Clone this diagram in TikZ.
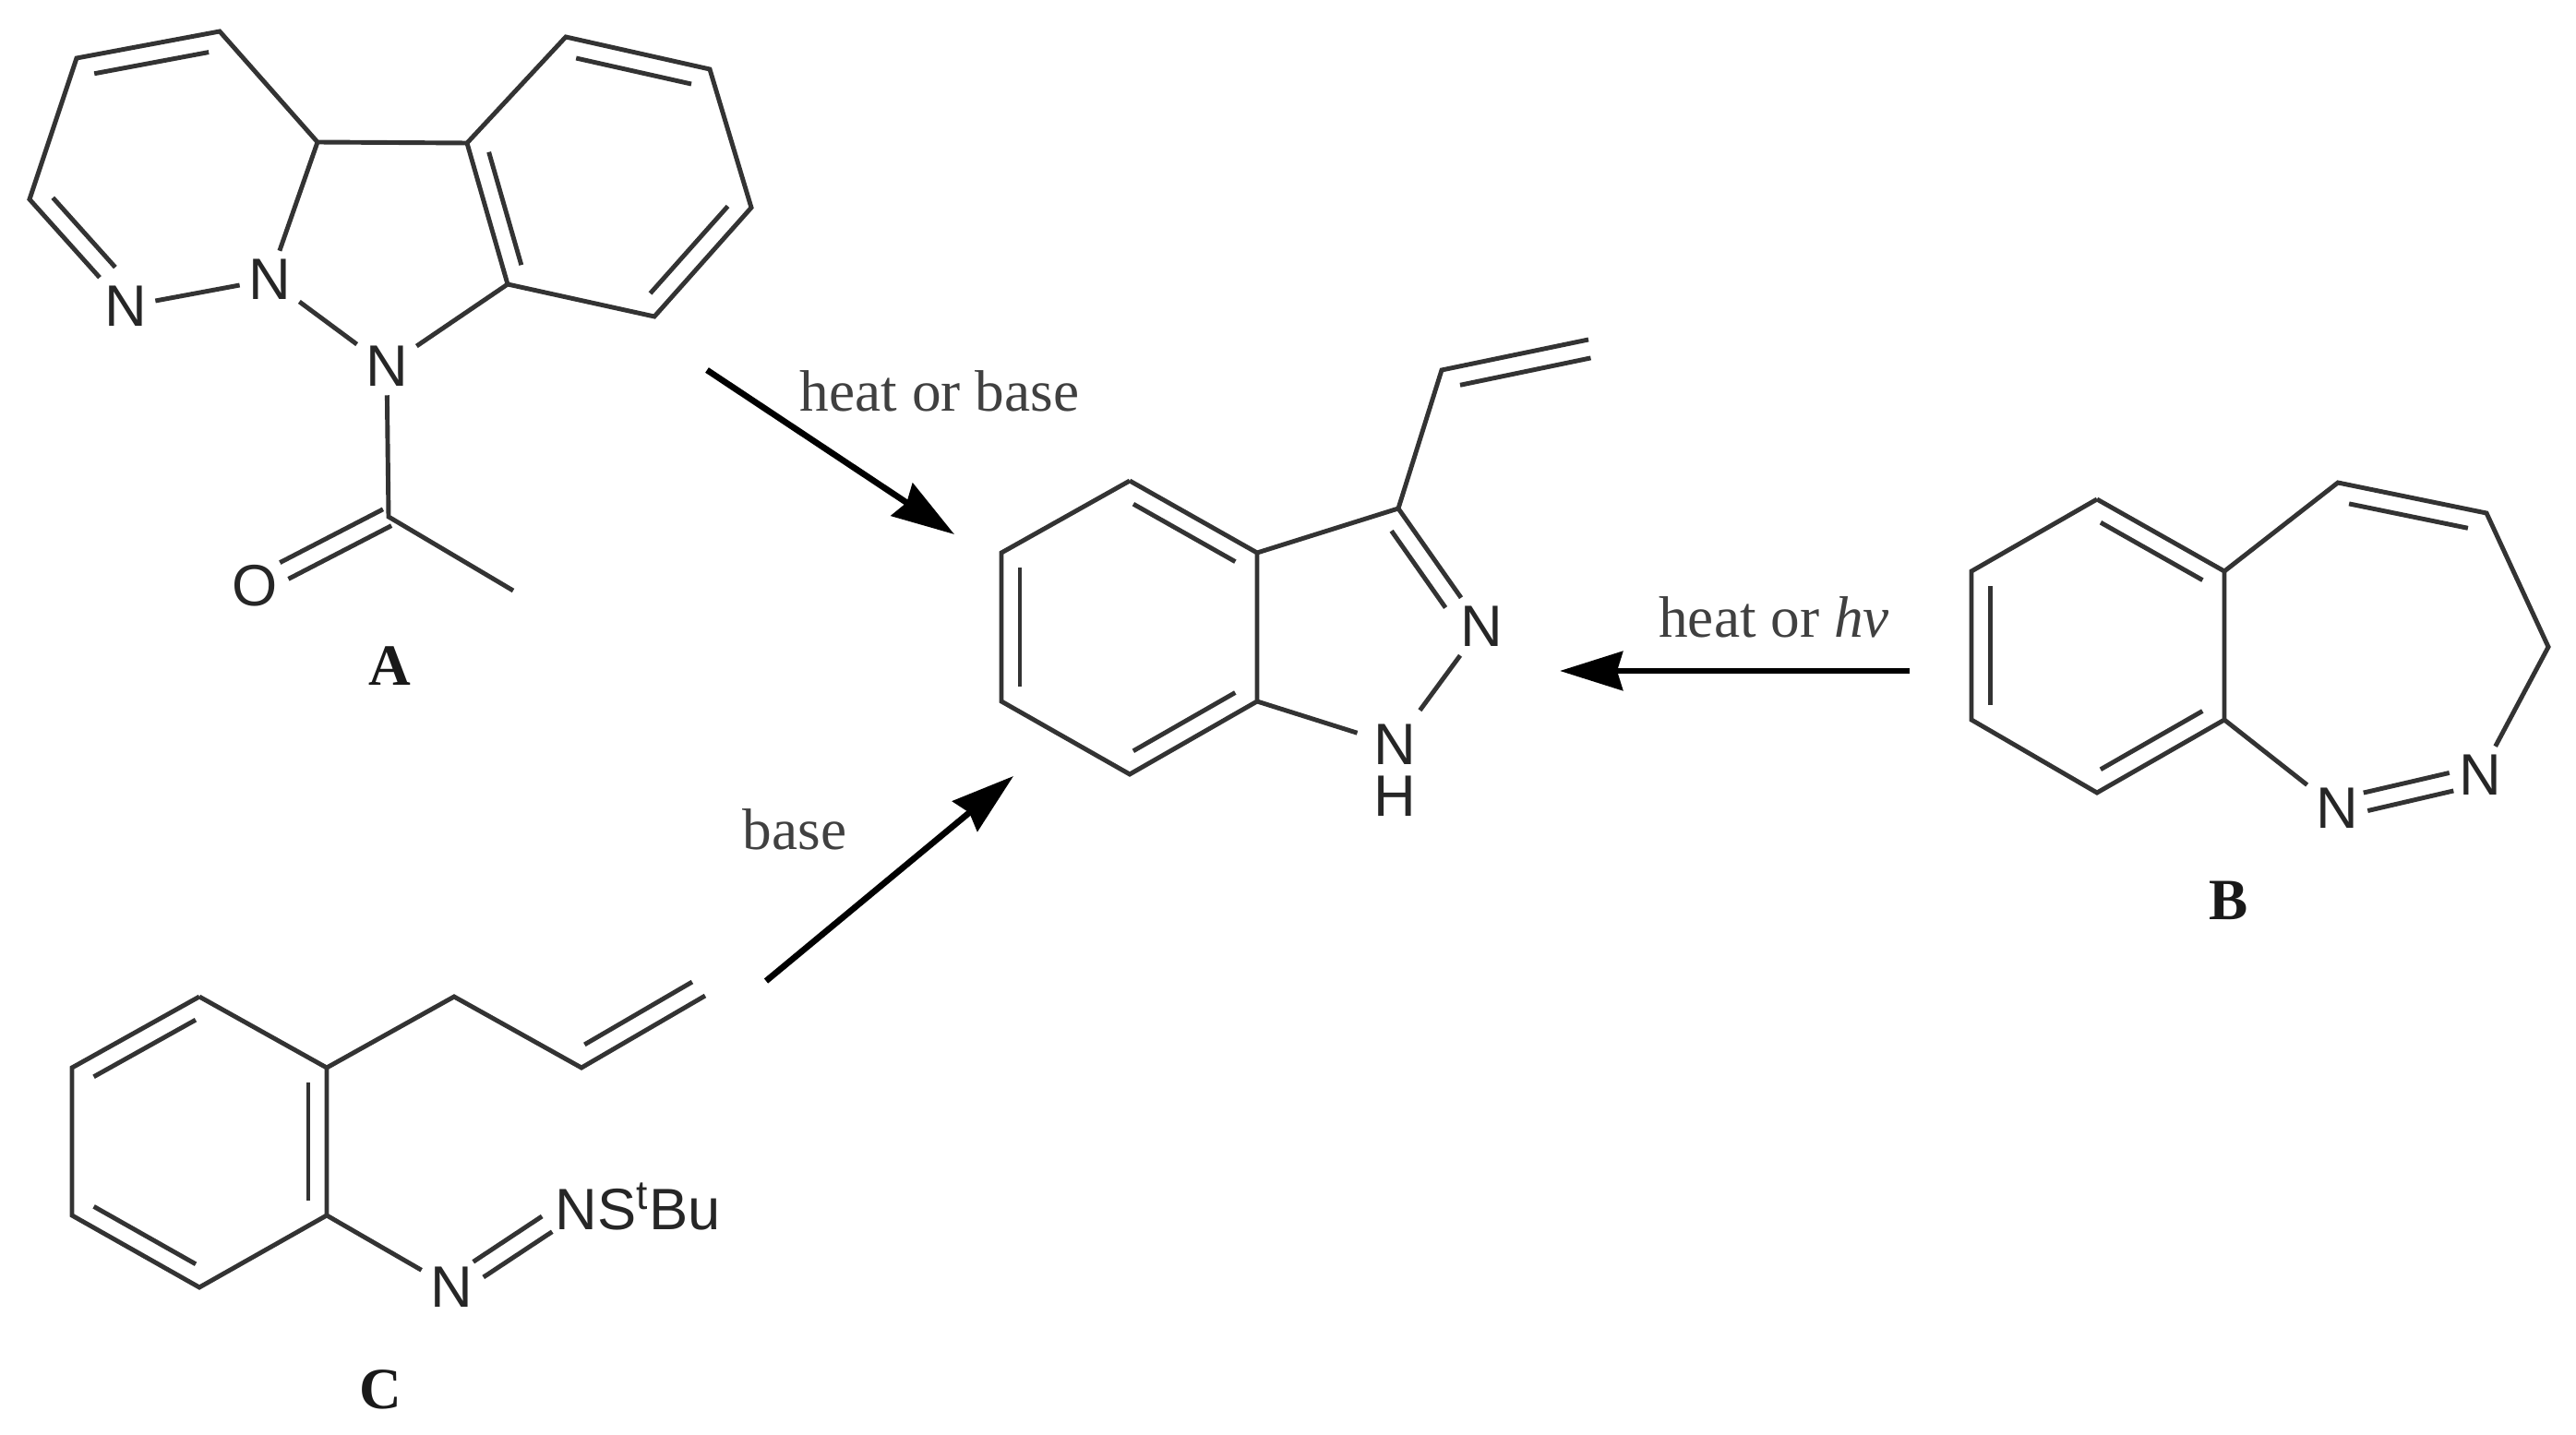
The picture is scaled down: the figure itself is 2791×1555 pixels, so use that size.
\documentclass[tikz,border=0pt]{standalone}
\usepackage{fontspec}
\setmainfont{Liberation Serif}
\newfontfamily\atomfont{Liberation Sans}
\usetikzlibrary{calc}
\usetikzlibrary{arrows.meta}

\newcommand{\innerbond}[4][0.9]{\draw[bond] ($(#2)!0.1!(#3)!#4!-90:(#3)$) -- ($(#2)!#1!(#3)!#4!-90:(#3)$);}
\newcommand{\twinbond}[4]{
  \draw[bond] ($(#1)!#3!(#2)!.1cm!90:(#2)$) -- ($(#1)!#4!(#2)!.1cm!90:(#2)$);
  \draw[bond] ($(#1)!#3!(#2)!.1cm!-90:(#2)$) -- ($(#1)!#4!(#2)!.1cm!-90:(#2)$);
}

\begin{document}
\begin{tikzpicture}[
        x=0.01cm,y=-0.01cm,
        bond/.style={draw=black!80,line width=1.4pt,line join=miter},
        atom/.style={font=\atomfont\fontsize{18}{21}\selectfont,text=black!85,inner sep=2.5pt},
        cond/.style={font=\fontsize{18}{21}\selectfont,text=black!75,inner sep=0pt},
        tag/.style={font=\bfseries\fontsize{18}{21}\selectfont,text=black!90,inner sep=0pt},
        react/.style={draw=black,line width=1.9pt,-{Stealth[length=0.68cm,width=0.42cm,inset=0.06cm]}}
      ]
      \useasboundingbox (0,0) rectangle (2791,1555);
      % compound A
      \coordinate (a1) at (238,34);
      \coordinate (a2) at (83,63);
      \coordinate (a3) at (32,216);
      \coordinate (a4) at (344,154);
      \coordinate (a5) at (506,155);
      \coordinate (a6) at (613,40);
      \coordinate (a7) at (769,75);
      \coordinate (a8) at (814,225);
      \coordinate (a9) at (709,343);
      \coordinate (a10) at (550,308);
      \coordinate (a11) at (421,560);
      \coordinate (a12) at (556,640);
      \node[atom] (an1) at (136,332) {N};
      \node[atom] (an2) at (292,303) {N};
      \node[atom] (an3) at (419,397) {N};
      \node[atom] (ao) at (276,635) {O};
      \node[tag] (atag) at (422,722) {A};
      \draw[bond] (an1) -- (a3) -- (a2) -- (a1) -- (a4) -- (a5) -- (a6) -- (a7) -- (a8) -- (a9) -- (a10) -- (a5);
      \draw[bond] (a4) -- (an2);
      \draw[bond] (an1) -- (an2);
      \draw[bond] (an2) -- (an3);
      \draw[bond] (an3) -- (a10);
      \draw[bond] (an3) -- (a11) -- (a12);
      \innerbond{a2}{a1}{.2cm}
      \innerbond[0.75]{a3}{an1}{-.2cm}
      \innerbond{a6}{a7}{.2cm}
      \innerbond{a8}{a9}{.2cm}
      \innerbond{a5}{a10}{-.2cm}
      \twinbond{a11}{ao}{0.01}{0.78}
      % product
      \coordinate (c1) at (1224,521);
      \coordinate (c2) at (1085,599);
      \coordinate (c3) at (1085,760);
      \coordinate (c4) at (1224,839);
      \coordinate (c5) at (1362,760);
      \coordinate (c6) at (1362,599);
      \coordinate (c7) at (1515,551);
      \coordinate (c8) at (1562,401);
      \coordinate (c9) at (1721,368);
      \node[atom] (cn1) at (1605,679) {N};
      \node[atom,inner sep=1pt] (cn2) at (1511,807) {N};
      \node[atom,inner sep=0pt] (ch) at (1511,863) {H};
      \draw[bond] (c1) -- (c2) -- (c3) -- (c4) -- (c5) -- (c6) -- (c1);
      \draw[bond] (c6) -- (c7) -- (c8) -- (c9);
      \draw[bond] (c7) -- (cn1);
      \draw[bond,shorten >=4pt] (cn1) -- (cn2);
      \draw[bond,shorten >=4pt] (c5) -- (cn2);
      \innerbond{c1}{c6}{.2cm}
      \innerbond{c3}{c2}{.2cm}
      \innerbond{c5}{c4}{.2cm}
      \innerbond[0.75]{c7}{cn1}{.2cm}
      \innerbond[0.99]{c8}{c9}{.2cm}
      % compound B
      \coordinate (b1) at (2272,541);
      \coordinate (b2) at (2136,619);
      \coordinate (b3) at (2136,780);
      \coordinate (b4) at (2272,859);
      \coordinate (b5) at (2410,780);
      \coordinate (b6) at (2410,619);
      \coordinate (b7) at (2533,523);
      \coordinate (b8) at (2694,556);
      \coordinate (b9) at (2761,701);
      \node[atom] (bn1) at (2532,876) {N};
      \node[atom] (bn2) at (2687,840) {N};
      \node[tag] (btag) at (2415,976) {B};
      \draw[bond] (b1) -- (b2) -- (b3) -- (b4) -- (b5) -- (b6) -- (b1);
      \draw[bond] (b6) -- (b7) -- (b8) -- (b9) -- (bn2);
      \draw[bond] (b5) -- (bn1);
      \innerbond{b1}{b6}{.2cm}
      \innerbond{b3}{b2}{.2cm}
      \innerbond{b5}{b4}{.2cm}
      \innerbond{b7}{b8}{.2cm}
      \twinbond{bn1}{bn2}{0.2}{0.8}
      % compound C
      \coordinate (d1) at (216,1080);
      \coordinate (d2) at (78,1157);
      \coordinate (d3) at (78,1317);
      \coordinate (d4) at (216,1395);
      \coordinate (d5) at (354,1317);
      \coordinate (d6) at (354,1157);
      \coordinate (d7) at (492,1080);
      \coordinate (d8) at (630,1157);
      \coordinate (d9) at (764,1079);
      \coordinate (dn3) at (622,1307);
      \node[atom] (dn1) at (489,1395) {N};
      \node[atom,anchor=west,inner sep=0pt] (dn2) at (601,1307) {NS\textsuperscript{t}Bu};
      \node[tag] (dtag) at (412,1506) {C};
      \draw[bond] (d1) -- (d2) -- (d3) -- (d4) -- (d5) -- (d6) -- (d1);
      \draw[bond] (d6) -- (d7) -- (d8) -- (d9);
      \draw[bond] (d5) -- (dn1);
      \innerbond{d2}{d1}{.2cm}
      \innerbond{d6}{d5}{.2cm}
      \innerbond{d4}{d3}{.2cm}
      \innerbond[0.97]{d8}{d9}{-.2cm}
      \twinbond{dn1}{dn3}{0.22}{0.78}
      % reactions
      \coordinate (r1) at (766,401);
      \coordinate (p1) at (1034,579);
      \coordinate (r2) at (2069,727);
      \coordinate (p2) at (1690,727);
      \coordinate (r3) at (830,1063);
      \coordinate (p3) at (1098,841);
      \draw[react] (r1) -- (p1);
      \draw[react] (r2) -- (p2);
      \draw[react] (r3) -- (p3);
      \node[cond] (h1) at (1018,424) {heat or base};
      \node[cond] (h2) at (1922,669) {heat or {\itshape hv}};
      \node[cond] (h3) at (861,899) {base};
    \end{tikzpicture}
\end{document}
